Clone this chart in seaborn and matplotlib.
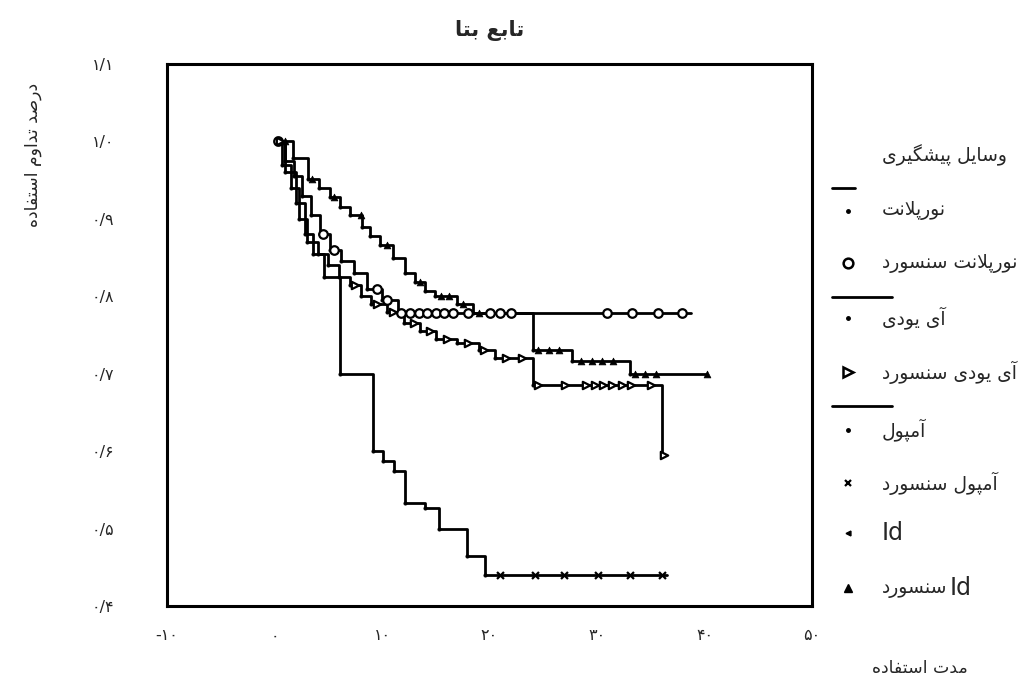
import numpy as np
import pandas as pd
import matplotlib
matplotlib.use('Agg')
import matplotlib.pyplot as plt
import seaborn as sns
from matplotlib.lines import Line2D

# matplotlib has no arabic shaping / bidi, so do a small one by hand
FORMS = {
    'ا': ('\uFE8D', '\uFE8E'), 'آ': ('\uFE81', '\uFE82'),
    'ب': ('\uFE8F', '\uFE90', '\uFE91', '\uFE92'),
    'پ': ('\uFB56', '\uFB57', '\uFB58', '\uFB59'),
    'ت': ('\uFE95', '\uFE96', '\uFE97', '\uFE98'),
    'د': ('\uFEA9', '\uFEAA'), 'ر': ('\uFEAD', '\uFEAE'),
    'س': ('\uFEB1', '\uFEB2', '\uFEB3', '\uFEB4'),
    'ش': ('\uFEB5', '\uFEB6', '\uFEB7', '\uFEB8'),
    'ص': ('\uFEB9', '\uFEBA', '\uFEBB', '\uFEBC'),
    'ع': ('\uFEC9', '\uFECA', '\uFECB', '\uFECC'),
    'ف': ('\uFED1', '\uFED2', '\uFED3', '\uFED4'),
    'گ': ('\uFB92', '\uFB93', '\uFB94', '\uFB95'),
    'ل': ('\uFEDD', '\uFEDE', '\uFEDF', '\uFEE0'),
    'م': ('\uFEE1', '\uFEE2', '\uFEE3', '\uFEE4'),
    'ن': ('\uFEE5', '\uFEE6', '\uFEE7', '\uFEE8'),
    'ه': ('\uFEE9', '\uFEEA', '\uFEEB', '\uFEEC'),
    'و': ('\uFEED', '\uFEEE'),
    'ی': ('\uFBFC', '\uFBFD', '\uFBFE', '\uFBFF'),
}
LAM_ALEF = {'ا': ('\uFEFB', '\uFEFC'), 'آ': ('\uFEF5', '\uFEF6')}


def fa(text):
    out = []
    i = 0
    while i < len(text):
        ch = text[i]
        if ch not in FORMS:
            out.append(ch)
            i += 1
            continue
        prev = text[i - 1] if i > 0 else ''
        nxt = text[i + 1] if i + 1 < len(text) else ''
        link_prev = prev in FORMS and len(FORMS[prev]) == 4
        if ch == 'ل' and nxt in LAM_ALEF:
            out.append(LAM_ALEF[nxt][1 if link_prev else 0])
            i += 2
            continue
        f = FORMS[ch]
        link_next = len(f) == 4 and nxt in FORMS
        if link_prev and link_next:
            out.append(f[3])
        elif link_next:
            out.append(f[2])
        elif link_prev:
            out.append(f[1])
        else:
            out.append(f[0])
        i += 1
    return ''.join(out[::-1])


# Data
group_names = ['نورپلانت', 'آی یودی', 'آمپول', 'Id']
censored_word = 'سنسورد'

nor_t = [0, 1.0, 1.8, 2.6, 3.4, 4.2, 5.2, 6.2, 7.4, 8.6, 10.0, 11.5]
nor_s = [1.0, 0.975, 0.955, 0.93, 0.905, 0.88, 0.86, 0.845, 0.83, 0.81, 0.795, 0.778]
nor_end = 38.7
nor_cens = [0.3, 4.5, 5.5, 9.5, 10.5, 11.8, 12.6, 13.4, 14.2, 15.0, 15.8, 16.6, 18.0,
            20.0, 21.0, 22.0, 30.9, 33.3, 35.7, 37.9]

iud_t = [0, 0.7, 1.5, 2.3, 3.0, 4.0, 5.0, 6.0, 7.0, 8.0, 9.0, 10.5, 12.0, 13.5,
         15.0, 17.0, 19.0, 20.5, 24.0, 36.0]
iud_s = [1.0, 0.97, 0.94, 0.90, 0.87, 0.855, 0.84, 0.825, 0.815, 0.80, 0.79, 0.78,
         0.765, 0.755, 0.745, 0.74, 0.73, 0.72, 0.685, 0.595]
iud_end = 36.2
iud_cens = [0.5, 7.5, 9.5, 11.0, 13.0, 14.5, 16.0, 18.0, 19.5, 21.5, 23.0, 24.5, 27.0,
            29.0, 29.8, 30.6, 31.4, 32.3, 33.2, 35.0, 36.2]

amp_t = [0, 1.0, 2.0, 2.8, 3.6, 4.6, 6.1, 9.2, 10.1, 11.1, 12.1, 14.0, 15.3, 17.9, 19.6]
amp_s = [1.0, 0.96, 0.92, 0.88, 0.855, 0.825, 0.70, 0.60, 0.587, 0.575, 0.533, 0.527,
         0.50, 0.465, 0.44]
amp_end = 36.5
amp_cens = [21.0, 24.2, 26.9, 30.1, 33.1, 36.0]

id_t = [0, 1.7, 3.1, 4.1, 5.2, 6.1, 7.0, 8.1, 8.9, 9.8, 11.0, 12.1, 13.1, 14.0, 14.9,
        17.0, 18.5, 24.0, 27.7, 33.1]
id_s = [1.0, 0.978, 0.952, 0.94, 0.928, 0.915, 0.905, 0.89, 0.878, 0.866, 0.85, 0.83,
        0.818, 0.807, 0.80, 0.79, 0.778, 0.73, 0.717, 0.70]
id_end = 40.2
id_cens = [1.0, 3.5, 5.5, 8.0, 10.5, 13.5, 15.5, 16.2, 17.5, 19.0, 24.5, 25.5, 26.5,
           28.5, 29.5, 30.5, 31.5, 33.5, 34.5, 35.5, 40.2]

x_ticks = [-10, 0, 10, 20, 30, 40, 50]
x_labels = ['-۱۰', '۰', '۱۰', '۲۰', '۳۰', '۴۰', '۵۰']
y_ticks = [0.4, 0.5, 0.6, 0.7, 0.8, 0.9, 1.0, 1.1]
y_labels = ['۰/۴', '۰/۵', '۰/۶', '۰/۷', '۰/۸', '۰/۹', '۱/۰', '۱/۱']

sns.set_style('white')
plt.rcParams['font.family'] = ['DejaVu Sans']

W, H = 1036, 695
fig = plt.figure(figsize=(W / 100, H / 100), dpi=100)
ax = fig.add_axes([0.1612, 0.128, 0.6226, 0.78])

curves = [
    (nor_t, nor_s, nor_end, nor_cens, 'o', dict(s=38, facecolors='white', linewidths=1.6)),
    (iud_t, iud_s, iud_end, iud_cens, '>', dict(s=28, facecolors='white', linewidths=1.6)),
    (amp_t, amp_s, amp_end, amp_cens, 'x', dict(s=25, linewidths=1.6)),
    (id_t, id_s, id_end, id_cens, '^', dict(s=24, linewidths=0.5)),
]

for t, s, end, cens, mk, kw in curves:
    df = pd.DataFrame({'t': t + [end], 's': s + [s[-1]]})
    sns.lineplot(data=df, x='t', y='s', drawstyle='steps-post', estimator=None,
                 sort=False, color='black', linewidth=2.0, ax=ax)
    # event dots at the step corners
    ev = pd.DataFrame({'t': t[1:], 's': s[1:]})
    sns.scatterplot(data=ev, x='t', y='s', marker='o', s=7, color='black',
                    edgecolor='black', ax=ax, zorder=3)
    # censored marks sit on the curve
    idx = np.searchsorted(t, cens, side='right') - 1
    cdf = pd.DataFrame({'t': cens, 's': np.array(s)[idx]})
    sns.scatterplot(data=cdf, x='t', y='s', marker=mk, color='black',
                    edgecolor='black', ax=ax, zorder=4, **kw)

ax.set_xlim(-10, 50)
ax.set_ylim(0.4, 1.1)
ax.set_xticks(x_ticks)
ax.set_xticklabels(x_labels, fontsize=11.5)
ax.set_yticks(y_ticks)
ax.set_yticklabels(y_labels, fontsize=11.5)
ax.tick_params(direction='out', length=4, width=3, color='black', pad=12)
ax.tick_params(axis='y', pad=34)
ax.set_xlabel('')
ax.set_ylabel('')
for sp in ax.spines.values():
    sp.set_visible(True)
    sp.set_linewidth(2.2)
    sp.set_color('black')

ax.set_title(fa('تابع بتا'), fontsize=15, fontweight='bold', pad=20)
fig.text(33 / W, 1 - 155 / H, fa('درصد تداوم استفاده'), rotation=90,
         ha='center', va='center', fontsize=12.5)
fig.text(920 / W, 1 - 668 / H, fa('مدت استفاده'), ha='center', va='center',
         fontsize=12.5)

# legend drawn by hand (rtl text, separator lines like spss)
fig.text(882 / W, 1 - 155 / H, fa('وسایل پیشگیری'), ha='left', va='center', fontsize=13.5)
small = dict(markersize=2.5, markerfacecolor='black')
leg_rows = [
    (group_names[0], False, 'o', small),
    (group_names[0], True, 'o', dict(markersize=7, markerfacecolor='white', markeredgewidth=1.8)),
    (group_names[1], False, 'o', small),
    (group_names[1], True, '>', dict(markersize=6.5, markerfacecolor='white', markeredgewidth=1.8)),
    (group_names[2], False, 'o', small),
    (group_names[2], True, 'x', dict(markersize=4.5, markeredgewidth=1.6)),
    (group_names[3], False, '<', dict(markersize=3.5, markerfacecolor='black')),
    (group_names[3], True, '^', dict(markersize=6, markerfacecolor='black')),
]
row_y = [211, 263, 318, 372, 430, 483, 533, 588]
renderer = fig.canvas.get_renderer()
for (name, cens, mk, kw), yy in zip(leg_rows, row_y):
    fy = 1 - yy / H
    fig.add_artist(Line2D([848 / W], [fy], marker=mk, color='black',
                          linestyle='none', transform=fig.transFigure, **kw))
    if name == 'Id':
        x0 = 882 / W
        if cens:
            txt = fig.text(x0, fy, fa(censored_word), ha='left', va='center', fontsize=13.5)
            x0 += txt.get_window_extent(renderer).width / W + 0.002
        fig.text(x0, fy, 'Id', ha='left', va='center', fontsize=17)
    else:
        label = name + ' ' + censored_word if cens else name
        fig.text(882 / W, fy, fa(label), ha='left', va='center', fontsize=13.5)
for yy, x1 in [(188, 855), (297, 892), (406, 892)]:
    fig.add_artist(Line2D([832 / W, x1 / W], [1 - yy / H, 1 - yy / H], color='black',
                          linewidth=2.0, transform=fig.transFigure))

fig.savefig('out.png', dpi=100)
